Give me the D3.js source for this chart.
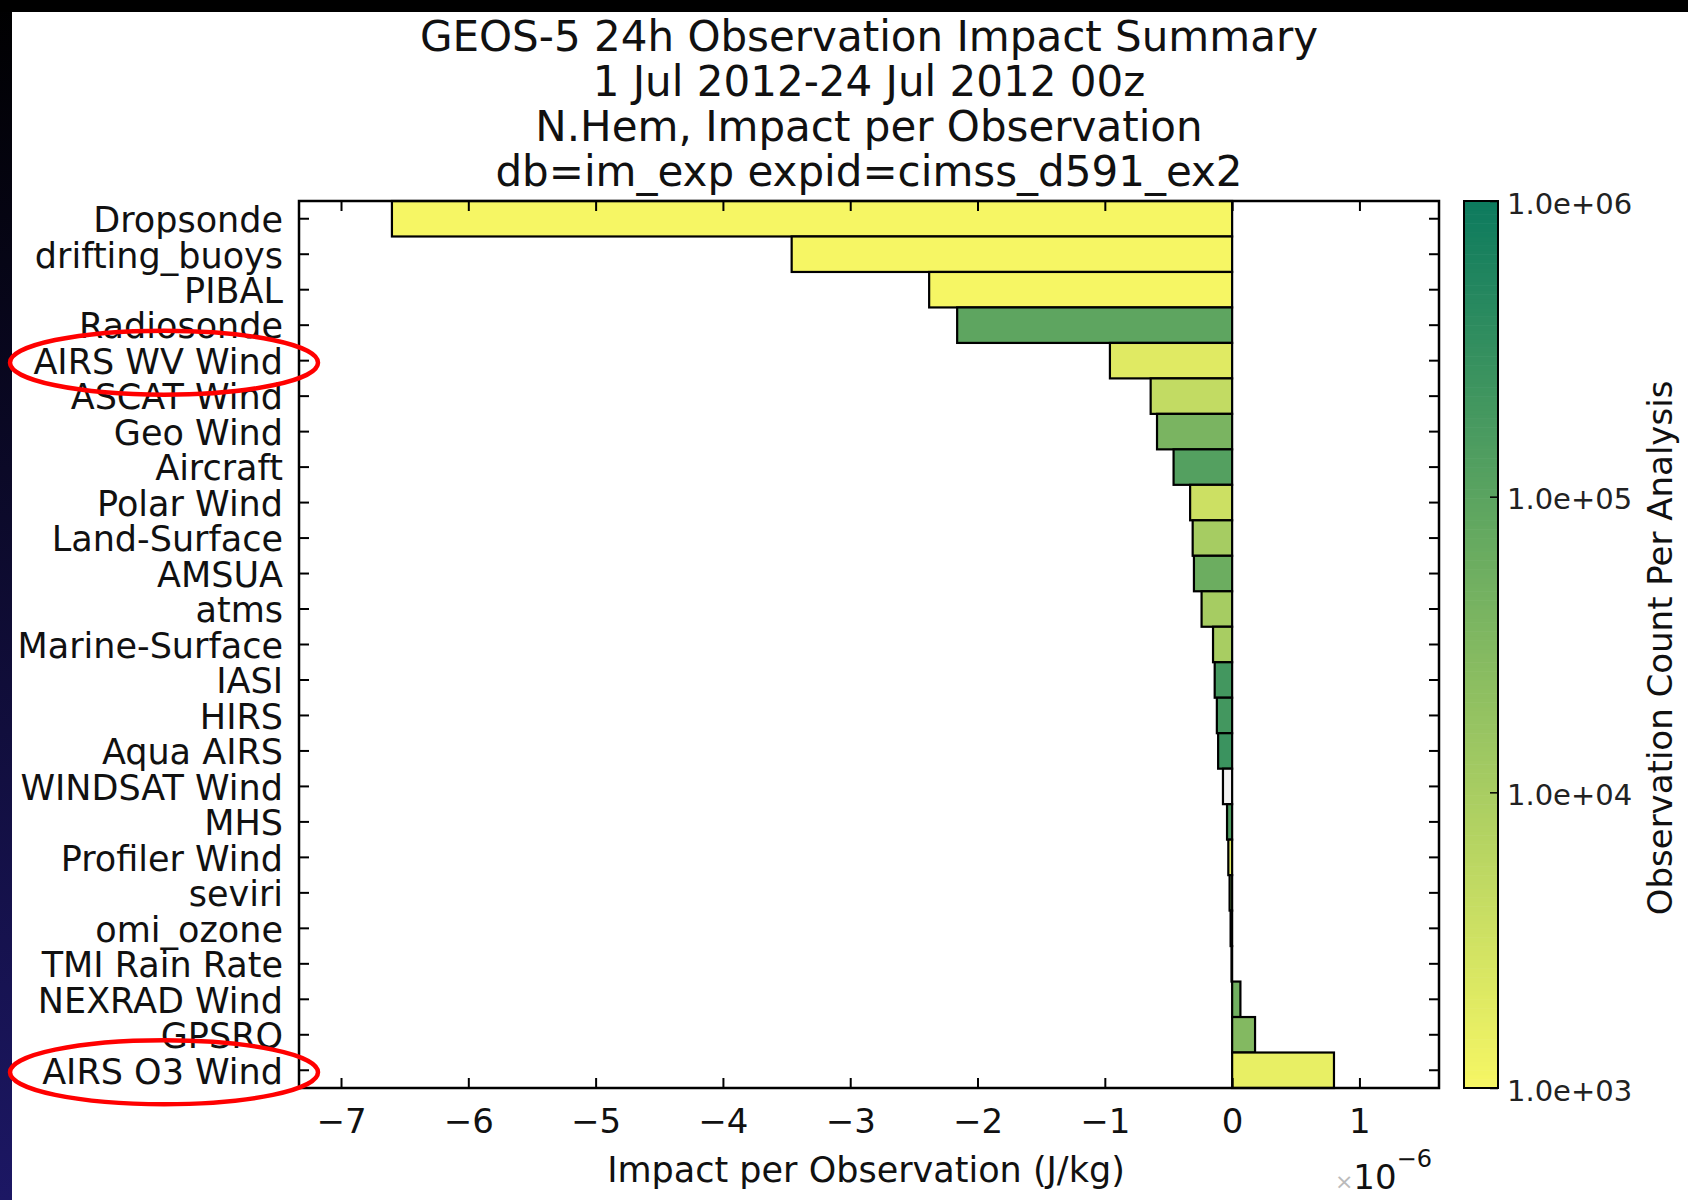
<!DOCTYPE html>
<html>
<head>
<meta charset="utf-8">
<script src="https://cdn.jsdelivr.net/npm/d3@7"></script>
<style>
  body { margin: 0; background: #fff; }
  svg { display: block; font-family: "DejaVu Sans", sans-serif; }
</style>
</head>
<body>
<svg id="chart" width="1688" height="1200"></svg>
<script>
// observation types, top to bottom
const categories = [
  "Dropsonde", "drifting_buoys", "PIBAL", "Radiosonde", "AIRS WV Wind",
  "ASCAT Wind", "Geo Wind", "Aircraft", "Polar Wind", "Land-Surface",
  "AMSUA", "atms", "Marine-Surface", "IASI", "HIRS", "Aqua AIRS",
  "WINDSAT Wind", "MHS", "Profiler Wind", "seviri", "omi_ozone",
  "TMI Rain Rate", "NEXRAD Wind", "GPSRO", "AIRS O3 Wind"
];

// impact per observation, in units of 1e-6 J/kg
const impacts = [
  -6.60, -3.46, -2.38, -2.16, -0.96,
  -0.64, -0.59, -0.46, -0.33, -0.31,
  -0.30, -0.24, -0.15, -0.137, -0.12, -0.11,
  -0.072, -0.04, -0.03, -0.02, -0.012,
  -0.005, 0.065, 0.18, 0.80
];

// observation count per analysis (colour); null = no count
const counts = [
  400, 700, 800, 9.0e4, 1.9e3,
  4.6e3, 3.9e4, 1.2e5, 3.5e3, 1.05e4,
  5.9e4, 1.05e4, 1.0e4, 2.0e5, 2.0e5, 2.5e5,
  null, 1.5e5, 2.0e3, 3.0e4, 1.0e4,
  5.0e3, 5.0e4, 3.0e4, 1.5e3
];

const titleLines = [
  "GEOS-5 24h Observation Impact Summary",
  "1 Jul 2012-24 Jul 2012 00z",
  "N.Hem, Impact per Observation",
  "db=im_exp expid=cimss_d591_ex2"
];

const xTicks = [-7, -6, -5, -4, -3, -2, -1, 0, 1];
const colorTicks = [1e3, 1e4, 1e5, 1e6];
const circled = ["AIRS WV Wind", "AIRS O3 Wind"];

const svg = d3.select("#chart");
const plot = { left: 299, right: 1439, top: 201, bottom: 1088 };
const cbar = { left: 1464, right: 1498 };

// frame decoration of the slide
const defs = svg.append("defs");
const grad = defs.append("linearGradient")
  .attr("id", "edge").attr("x1", 0).attr("y1", 0).attr("x2", 0).attr("y2", 1);
grad.append("stop").attr("offset", "0%").attr("stop-color", "#000");
grad.append("stop").attr("offset", "100%").attr("stop-color", "#1c1764");
svg.append("rect").attr("x", 0).attr("y", 0).attr("width", 12).attr("height", 1200).attr("fill", "url(#edge)");
svg.append("rect").attr("x", 0).attr("y", 0).attr("width", 1688).attr("height", 12).attr("fill", "#000");

const x = d3.scaleLinear().domain([-7.33, 1.625]).range([plot.left, plot.right]);
const y = d3.scaleBand().domain(categories).range([plot.top, plot.bottom]).padding(0);

const logScale = d3.scaleLog().domain([1e3, 1e6]).range([0, 1]).clamp(true);
const ramp = d3.interpolateRgb("#f6f664", "#0c7a5e");
const colorOf = c => c == null ? "#f2f2f2" : ramp(logScale(c));

// title
svg.append("g").selectAll("text")
  .data(titleLines)
  .join("text")
  .attr("x", 869)
  .attr("y", (d, i) => 51 + i * 45)
  .attr("text-anchor", "middle")
  .attr("font-size", 42)
  .attr("fill", "#111")
  .text(d => d);

// bars
svg.append("g").selectAll("rect")
  .data(categories)
  .join("rect")
  .attr("x", (d, i) => x(Math.min(0, impacts[i])))
  .attr("y", d => y(d))
  .attr("width", (d, i) => Math.abs(x(impacts[i]) - x(0)))
  .attr("height", y.bandwidth())
  .attr("fill", (d, i) => colorOf(counts[i]))
  .attr("stroke", "#000")
  .attr("stroke-width", 2.2);

// axes, ticks pointing inward
const tickLen = 10;
const xb = svg.append("g").attr("transform", `translate(0,${plot.bottom})`)
  .call(d3.axisBottom(x).tickValues(xTicks).tickSize(-tickLen).tickPadding(21)
    .tickFormat(d => d < 0 ? "\u2212" + Math.abs(d) : d));
const xt = svg.append("g").attr("transform", `translate(0,${plot.top})`)
  .call(d3.axisTop(x).tickValues(xTicks).tickSize(-tickLen).tickFormat(""));
const yl = svg.append("g").attr("transform", `translate(${plot.left},0)`)
  .call(d3.axisLeft(y).tickSize(-tickLen).tickPadding(16));
const yr = svg.append("g").attr("transform", `translate(${plot.right},0)`)
  .call(d3.axisRight(y).tickSize(-tickLen).tickFormat(""));

[xb, xt, yl, yr].forEach(g => {
  g.select(".domain").remove();
  g.selectAll(".tick line").attr("stroke", "#000").attr("stroke-width", 2);
  g.selectAll(".tick text").attr("fill", "#111").attr("font-family", "DejaVu Sans");
});
xb.selectAll(".tick text").attr("font-size", 34);
yl.selectAll(".tick text").attr("font-size", 35).attr("dy", "0.38em");

svg.append("rect")
  .attr("x", plot.left).attr("y", plot.top)
  .attr("width", plot.right - plot.left).attr("height", plot.bottom - plot.top)
  .attr("fill", "none").attr("stroke", "#000").attr("stroke-width", 2.5);

// x label and offset
svg.append("text")
  .attr("x", 866).attr("y", 1182)
  .attr("text-anchor", "middle").attr("font-size", 35).attr("fill", "#111")
  .text("Impact per Observation (J/kg)");

const off = svg.append("text")
  .attr("x", 1432).attr("y", 1189)
  .attr("text-anchor", "end").attr("font-size", 34).attr("fill", "#111");
off.append("tspan").attr("fill", "#bbb").attr("font-size", 22).text("\u00d7");
off.append("tspan").text("10");
off.append("tspan").attr("font-size", 24).attr("dy", -22).text("\u22126");

// colour bar
const cy = d3.scaleLog().domain([1e3, 1e6]).range([plot.bottom, plot.top]);
const steps = d3.range(0, 200).map(i => Math.pow(10, 3 + 3 * i / 200));
svg.append("g").selectAll("rect")
  .data(steps)
  .join("rect")
  .attr("x", cbar.left)
  .attr("width", cbar.right - cbar.left)
  .attr("y", d => cy(d * Math.pow(10, 3 / 200)))
  .attr("height", (plot.bottom - plot.top) / 200 + 0.6)
  .attr("fill", d => colorOf(d));
svg.append("rect")
  .attr("x", cbar.left).attr("y", plot.top)
  .attr("width", cbar.right - cbar.left).attr("height", plot.bottom - plot.top)
  .attr("fill", "none").attr("stroke", "#000").attr("stroke-width", 2);

const cax = svg.append("g").attr("transform", `translate(${cbar.right},0)`)
  .call(d3.axisRight(cy).tickValues(colorTicks).tickSize(-8).tickPadding(9)
    .tickFormat(d => d.toExponential(1).replace(/e\+(\d)$/, "e+0$1")));
cax.select(".domain").remove();
cax.selectAll(".tick line").attr("stroke", "#000").attr("stroke-width", 1.5);
cax.selectAll(".tick text").attr("font-size", 29).attr("fill", "#222")
  .attr("font-family", "DejaVu Sans").attr("dy", "0.42em");

svg.append("text")
  .attr("transform", "translate(1672,648) rotate(-90)")
  .attr("text-anchor", "middle").attr("font-size", 34).attr("fill", "#111")
  .text("Observation Count Per Analysis");

// red annotation ellipses round two labels
svg.append("g").selectAll("ellipse")
  .data(circled)
  .join("ellipse")
  .attr("cx", 164)
  .attr("cy", d => y(d) + y.bandwidth() / 2 + 2)
  .attr("rx", 154)
  .attr("ry", 32)
  .attr("fill", "none")
  .attr("stroke", "#f00")
  .attr("stroke-width", 4.5);
</script>
</body>
</html>
